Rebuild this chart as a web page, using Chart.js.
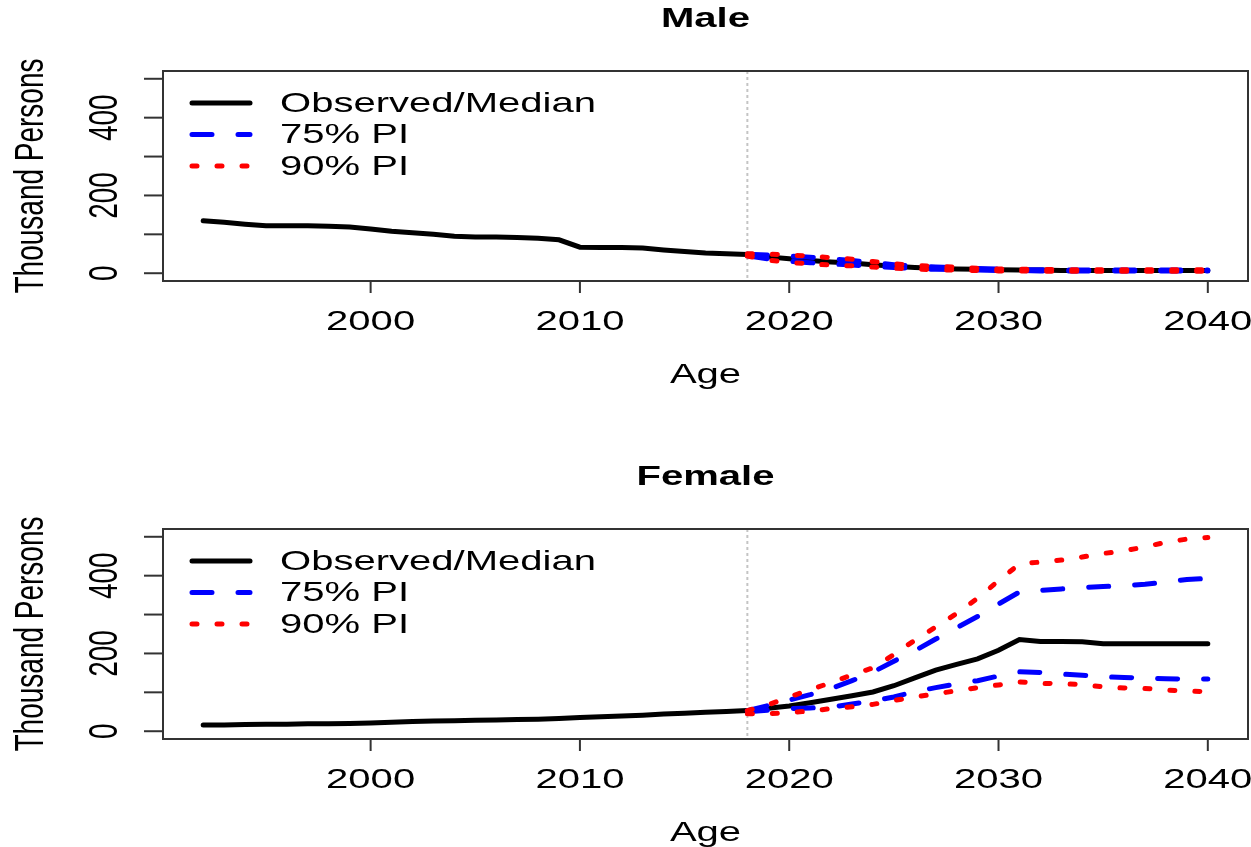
<!DOCTYPE html>
<html>
<head>
<meta charset="utf-8">
<script src="https://cdn.jsdelivr.net/npm/chart.js@4.4.1/dist/chart.umd.min.js"></script>
<style>
  body { margin: 0; background: #fff; }
  canvas { position: absolute; left: 0; }
</style>
</head>
<body>
<canvas id="maleChart" width="1251" height="423" style="top:0"></canvas>
<canvas id="femaleChart" width="1251" height="424" style="top:423px"></canvas>
<script>
// observed period and projection period
const obsYears = [1992, 1993, 1994, 1995, 1996, 1997, 1998, 1999, 2000, 2001, 2002, 2003, 2004, 2005, 2006, 2007, 2008, 2009, 2010, 2011, 2012, 2013, 2014, 2015, 2016, 2017, 2018];
const projYears = [2018, 2019, 2020, 2021, 2022, 2023, 2024, 2025, 2026, 2027, 2028, 2029, 2030, 2031, 2032, 2033, 2034, 2035, 2036, 2037, 2038, 2039, 2040];

// Male (thousand persons)
const maleObs = [135, 131, 126, 122, 122, 122, 121, 119, 114, 108, 104, 100, 95, 93, 93, 92, 90, 86, 67, 66, 66, 65, 60, 56, 52, 50, 48];
const maleMedian = [48, 42, 37, 33, 29, 26, 22, 18, 15, 13, 11, 10, 9, 8, 8, 7, 7, 7, 7, 7, 7, 7, 7];
const maleUp75 = [49, 47, 44, 41, 37, 33, 27, 22, 18, 16, 14, 12, 11, 9, 9, 8, 8, 8, 8, 8, 8, 8, 8];
const maleLo75 = [45, 37, 31, 27, 24, 21, 18, 15, 12, 10, 9, 8, 7, 7, 6, 6, 6, 6, 6, 6, 6, 6, 6];
const maleUp90 = [50, 49, 47, 44, 40, 36, 30, 24, 20, 18, 15, 13, 11, 10, 10, 9, 9, 9, 9, 9, 9, 9, 9];
const maleLo90 = [44, 34, 28, 24, 21, 19, 16, 13, 11, 9, 8, 7, 6, 6, 5, 5, 5, 5, 5, 5, 5, 5, 5];

// Female (thousand persons)
const femaleObs = [16, 16, 17, 18, 18, 19, 19, 20, 21, 23, 25, 26, 27, 28, 29, 30, 31, 33, 35, 37, 39, 41, 44, 46, 49, 51, 53];
const femaleMedian = [53, 59, 65, 73, 82, 91, 101, 117, 137, 157, 172, 186, 208, 236, 231, 231, 230, 225, 225, 225, 225, 225, 225];
const femaleUp75 = [53, 66, 80, 94, 110, 130, 152, 180, 207, 237, 266, 295, 327, 358, 362, 366, 369, 372, 374, 378, 384, 390, 393];
const femaleLo75 = [50, 54, 58, 60, 62, 70, 78, 88, 102, 112, 122, 130, 142, 153, 151, 147, 144, 140, 138, 137, 135, 134, 134];
const femaleUp90 = [53, 68, 88, 107, 125, 145, 163, 197, 234, 268, 303, 342, 387, 430, 435, 440, 448, 457, 464, 474, 486, 494, 498];
const femaleLo90 = [45, 45, 48, 52, 58, 63, 69, 79, 88, 96, 104, 112, 119, 127, 123, 122, 120, 114, 111, 110, 106, 103, 102];

const xTicks = [2000, 2010, 2020, 2030, 2040];
const yTicks = [0, 100, 200, 300, 400, 500];
const yLabels = [0, 200, 400];
const legendLabels = ["Observed/Median", "75% PI", "90% PI"];
const forecastStart = 2018;

const SX = 1.43; // the picture is stretched sideways
const FONT = "28px 'Liberation Sans', Arial, sans-serif";
const BOLD = "bold 28px 'Liberation Sans', Arial, sans-serif";

const styles = {
  obs: { borderColor: "#000000", borderWidth: 5, borderDash: [] },
  pi75: { borderColor: "#0000ff", borderWidth: 5, borderDash: [20, 26] },
  pi90: { borderColor: "#ff0000", borderWidth: 5, borderDash: [5, 20] }
};

function pts(xs, ys) {
  return xs.map((x, i) => ({ x: x, y: ys[i] }));
}

function stretchText(ctx, txt, x, y, rotate) {
  ctx.save();
  ctx.translate(x, y);
  ctx.scale(SX, 1);
  if (rotate) ctx.rotate(-Math.PI / 2);
  ctx.fillText(txt, 0, 0);
  ctx.restore();
}

// R-like frame, axes, titles and legend
const rFrame = {
  id: "rFrame",
  beforeDatasetsDraw(chart) {
    const { ctx, chartArea, scales } = chart;
    const x = scales.x.getPixelForValue(forecastStart);
    ctx.save();
    ctx.strokeStyle = "#c4c4c4";
    ctx.lineWidth = 2;
    ctx.setLineDash([3, 3]);
    ctx.beginPath();
    ctx.moveTo(x, chartArea.top);
    ctx.lineTo(x, chartArea.bottom);
    ctx.stroke();
    ctx.restore();
  },
  afterDraw(chart, args, opts) {
    const { ctx, chartArea, scales } = chart;
    const a = chartArea;
    ctx.save();
    ctx.strokeStyle = "#333";
    ctx.lineWidth = 2;
    ctx.strokeRect(a.left, a.top, a.right - a.left, a.bottom - a.top);

    // x ticks
    ctx.fillStyle = "#000";
    ctx.font = FONT;
    ctx.textAlign = "center";
    ctx.textBaseline = "alphabetic";
    xTicks.forEach((v) => {
      const px = scales.x.getPixelForValue(v);
      ctx.beginPath();
      ctx.moveTo(px, a.bottom);
      ctx.lineTo(px, a.bottom + 12);
      ctx.stroke();
      stretchText(ctx, String(v), px, a.bottom + 49, false);
    });

    // y ticks
    yTicks.forEach((v) => {
      const py = scales.y.getPixelForValue(v);
      ctx.beginPath();
      ctx.moveTo(a.left, py);
      ctx.lineTo(a.left - 19, py);
      ctx.stroke();
    });
    yLabels.forEach((v) => {
      stretchText(ctx, String(v), 117, scales.y.getPixelForValue(v), true);
    });

    // titles
    const cx = (a.left + a.right) / 2;
    stretchText(ctx, "Age", cx, a.bottom + 102, false);
    stretchText(ctx, "Thousand Persons", 43, (a.top + a.bottom) / 2, true);
    ctx.font = BOLD;
    stretchText(ctx, opts.title, cx, a.top - 44, false);

    // legend
    ctx.font = FONT;
    ctx.textAlign = "left";
    ctx.textBaseline = "middle";
    [styles.obs, styles.pi75, styles.pi90].forEach((s, i) => {
      const ly = a.top + 32 + i * 31.5;
      ctx.save();
      ctx.strokeStyle = s.borderColor;
      ctx.lineWidth = s.borderWidth;
      ctx.lineCap = "round";
      ctx.setLineDash(s.borderDash);
      ctx.beginPath();
      ctx.moveTo(192, ly);
      ctx.lineTo(250, ly);
      ctx.stroke();
      ctx.restore();
      stretchText(ctx, legendLabels[i], 280, ly + 1, false);
    });
    ctx.restore();
  }
};

function makeChart(id, title, obs, med, up75, lo75, up90, lo90, padTop, padBottom) {
  const line = (data, s) => ({
    data: data,
    borderColor: s.borderColor,
    borderWidth: s.borderWidth,
    borderDash: s.borderDash,
    borderCapStyle: "round",
    pointRadius: 0,
    fill: false,
    tension: 0
  });
  new Chart(document.getElementById(id), {
    type: "line",
    data: {
      datasets: [
        line(pts(projYears, up90), styles.pi90),
        line(pts(projYears, lo90), styles.pi90),
        line(pts(projYears, up75), styles.pi75),
        line(pts(projYears, lo75), styles.pi75),
        line(pts(projYears, med), styles.obs),
        line(pts(obsYears, obs), styles.obs)
      ]
    },
    options: {
      responsive: false,
      animation: false,
      devicePixelRatio: 1,
      layout: { padding: { left: 163, right: 3, top: padTop, bottom: padBottom } },
      scales: {
        x: { type: "linear", min: 1990.08, max: 2041.92, display: false },
        y: { type: "linear", min: -20, max: 520, display: false }
      },
      plugins: {
        legend: { display: false },
        tooltip: { enabled: false },
        rFrame: { title: title }
      }
    },
    plugins: [rFrame]
  });
}

makeChart("maleChart", "Male", maleObs, maleMedian, maleUp75, maleLo75, maleUp90, maleLo90, 71, 142);
makeChart("femaleChart", "Female", femaleObs, femaleMedian, femaleUp75, femaleLo75, femaleUp90, femaleLo90, 106, 108);
</script>
</body>
</html>
